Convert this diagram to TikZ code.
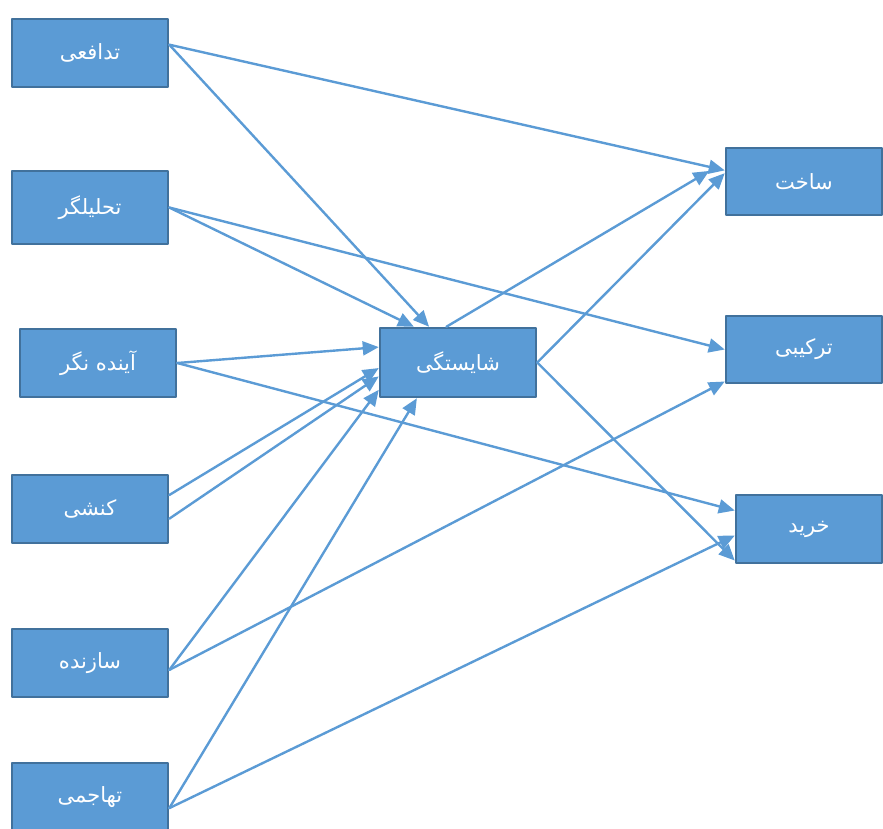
\documentclass[tikz,border=0pt]{standalone}
\usepackage{fontspec}
\usetikzlibrary{arrows.meta}
\newfontfamily\fafont[Script=Arabic]{DejaVu Sans}
\TeXXeTstate=1
\definecolor{boxfill}{HTML}{5B9BD5}
\definecolor{boxline}{HTML}{41719C}
\newcommand{\fa}[1]{{\fafont\beginR #1\endR}}

\begin{document}
\begin{tikzpicture}[line cap=round,line join=round,x=1pt,y=-1pt,
	box/.style={draw=boxline,fill=boxfill,line width=2.5pt,text=white,
		minimum width=156pt,minimum height=68pt,inner sep=0pt,
		font=\fontsize{21}{25}\selectfont},
	link/.style={draw=boxfill,line width=2.4pt,-{Triangle[length=16pt,width=14pt]}}]
	\useasboundingbox (0,0) rectangle (883,828);
	% left column
	\node[box] (tadafoi) at (90,53) {\fa{تدافعی}};
	\node[box,minimum height=73pt] (tahlilgar) at (90,207.5) {\fa{تحلیلگر}};
	\node[box] (ayande) at (98,363) {\fa{آینده نگر}};
	\node[box] (konshi) at (90,509) {\fa{کنشی}};
	\node[box] (sazande) at (90,663) {\fa{سازنده}};
	\node[box] (tahajomi) at (90,797) {\fa{تهاجمی}};
	% middle
	\node[box,minimum height=69pt] (shayestegi) at (458,362.5) {\fa{شایستگی}};
	% right column
	\node[box,minimum height=67pt] (sakht) at (804,181.5) {\fa{ساخت}};
	\node[box,minimum height=67pt] (tarkibi) at (804,349.5) {\fa{ترکیبی}};
	\node[box,minimum width=146pt] (kharid) at (809,529) {\fa{خرید}};
	% links
	\draw[link] (tadafoi.6) -- (sakht.172);
	\draw[link] (tadafoi.6) -- (shayestegi.129);
	\draw[link] (tahlilgar.east) -- (shayestegi.141);
	\draw[link] (tahlilgar.east) -- (tarkibi.west);
	\draw[link] (ayande.east) -- (shayestegi.169);
	\draw[link] (ayande.east) -- (kharid.166);
	\draw[link] (konshi.10) -- (shayestegi.184);
	\draw[link] (konshi.-7) -- (shayestegi.190);
	\draw[link] (sazande.-5) -- (shayestegi.199);
	\draw[link] (sazande.-5) -- (tarkibi.202);
	\draw[link] (tahajomi.-8) -- (shayestegi.221);
	\draw[link] (tahajomi.-8) -- (kharid.185);
	\draw[link,shorten >=18pt] (shayestegi.108) -- (sakht.166);
	\draw[link] (shayestegi.east) -- (sakht.174);
	\draw[link] (shayestegi.east) -- (kharid.203);
\end{tikzpicture}
\end{document}
